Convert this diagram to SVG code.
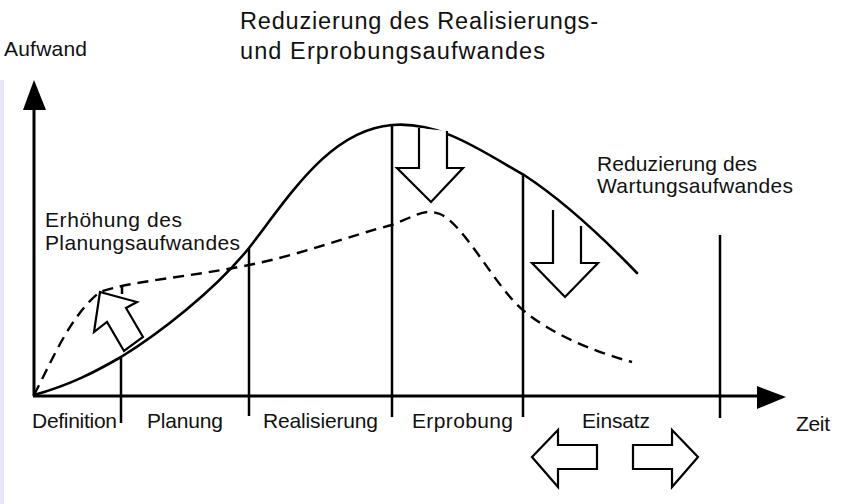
<svg xmlns="http://www.w3.org/2000/svg" width="842" height="504" viewBox="0 0 842 504">
<style>
  text { font-family: "Liberation Sans", Arial, Helvetica, sans-serif; fill: #111; }
  .t20 { font-size: 21px; }
  .t22 { font-size: 23.5px; }
  .axis { stroke: #000; stroke-width: 3; fill: none; }
  .vline { stroke: #000; stroke-width: 2.5; fill: none; }
  .solid { stroke: #000; stroke-width: 2.6; fill: none; stroke-linecap: round; }
  .dash { stroke: #000; stroke-width: 2.4; fill: none; stroke-dasharray: 11 7; }
  .hollow { stroke: #000; stroke-width: 2.2; fill: #fff; stroke-linejoin: miter; }
  .head { fill: #000; stroke: none; }
</style>
<rect x="0" y="0" width="842" height="504" fill="#fff"/>
<rect x="0" y="80" width="4" height="424" fill="#e6e6f8"/>

<g id="axes">
  <line class="axis" x1="34" y1="396" x2="34" y2="108"/>
  <polygon class="head" points="34,80 23,110 46,110"/>
  <line class="axis" x1="33" y1="396" x2="759" y2="396"/>
  <polygon class="head" points="786,397 757,386 757,409"/>
</g>

<g id="connectors">
  <line class="vline" x1="121" y1="357" x2="121" y2="423"/>
  <line class="vline" x1="249" y1="248" x2="249" y2="416"/>
  <line class="vline" x1="392" y1="125" x2="392" y2="417"/>
  <line class="vline" x1="523" y1="175" x2="523" y2="417"/>
  <line class="vline" x1="720" y1="235" x2="720" y2="418"/>
  <path class="solid" d="M34,395 C70,385 95,372 121,357 C160,333 215,290 249,248 C290,195 330,130 392,125 C440,121 480,150 524,175 C570,205 610,245 637,273"/>
  <path class="dash" d="M34,395 C50,365 70,315 100,292 C130,281 190,277 249,265 C300,255 355,234 392,225 C415,216 425,208 440,214 C465,225 495,287 524,311 C553,335 595,352 632,362"/>
  <line class="vline" x1="122" y1="285" x2="122" y2="294"/>
</g>

<g id="arrow-planung">
  <polygon class="hollow" points="100,292 137,302 126,308 143,337 124,351 107,322 94,332"/>
</g>
<g id="arrow-realisierung">
  <polyline class="hollow" points="419,128 419,168 397,168 431,202 463,168 447,168 447,131"/>
</g>
<g id="arrow-wartung">
  <polyline class="hollow" points="553,210 553,263 532,263 565,297 598,263 581,263 581,226"/>
</g>
<g id="arrow-einsatz-left">
  <polygon class="hollow" points="532,457 558,430 558,445 597,445 597,469 558,469 558,487"/>
</g>
<g id="arrow-einsatz-right">
  <polygon class="hollow" points="633,445 672,445 672,430 698,457 672,487 672,469 633,469"/>
</g>

<g id="label-aufwand">
  <text class="t20" x="4" y="56" textLength="83">Aufwand</text>
</g>
<g id="label-title">
  <text class="t22" x="240" y="29" textLength="358">Reduzierung des Realisierungs-</text>
  <text class="t22" x="240" y="59" textLength="305">und Erprobungsaufwandes</text>
</g>
<g id="label-wartung">
  <text class="t20" x="597" y="171" textLength="160">Reduzierung des</text>
  <text class="t20" x="597" y="193" textLength="196">Wartungsaufwandes</text>
</g>
<g id="label-planung-up">
  <text class="t20" x="45" y="227" textLength="137">Erhöhung des</text>
  <text class="t20" x="45" y="250" textLength="195">Planungsaufwandes</text>
</g>
<g id="phases">
  <text class="t20" x="32" y="428" textLength="85">Definition</text>
  <text class="t20" x="147" y="428" textLength="76">Planung</text>
  <text class="t20" x="263" y="428" textLength="115">Realisierung</text>
  <text class="t20" x="412" y="428" textLength="101">Erprobung</text>
  <text class="t20" x="582" y="428" textLength="68">Einsatz</text>
  <text class="t20" x="796" y="431" textLength="34">Zeit</text>
</g>
</svg>
